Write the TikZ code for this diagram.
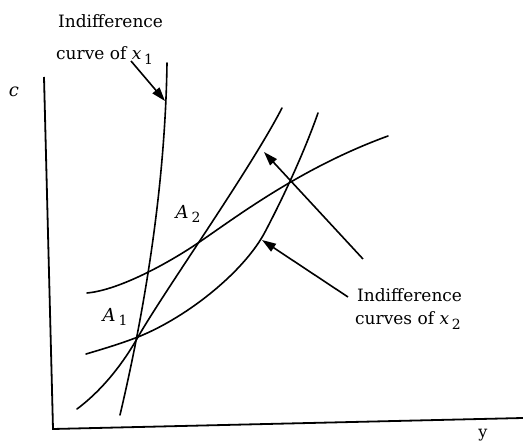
\documentclass[tikz,border=0pt]{standalone}
\usepackage{fontspec}
\setmainfont{DejaVu Serif}
\usetikzlibrary{arrows.meta}
\newcommand\lowsub[1]{\,\raisebox{-4.5pt}{\fontsize{14}{14}\selectfont #1}}
\begin{document}
\begin{tikzpicture}[x=1pt,y=-1pt,
  curve/.style={line width=1.6pt, line cap=round},
  axis/.style={line width=1.8pt},
  pointer/.style={line width=1.6pt, -{Triangle[length=14pt,width=9pt]}},
  lbl/.style={font=\fontsize{17}{20}\selectfont, inner sep=0pt, anchor=base west},
  ptlbl/.style={font=\fontsize{18}{22}\selectfont, inner sep=0pt}]
\useasboundingbox (0,0) rectangle (523,443);
% axes
\coordinate (top) at (44,77);
\coordinate (origin) at (53,429);
\coordinate (right) at (523,418);
\draw[axis] (top) -- (origin) -- (right);
\node[ptlbl] (cl) at (14,92) {\itshape c};
\node[ptlbl, font=\fontsize{16}{18}\selectfont] (yl) at (483,435) {y};
% indifference curve of x1
\draw[curve] (167,63) .. controls (165,200) and (140,330) .. (120,415);
% curve A (upper flat)
\draw[curve] (87,293) .. controls (120,290) and (170,262) .. (198,243)
                      .. controls (235,218) and (300,168) .. (388,136);
% curve B
\draw[curve] (86,354) .. controls (110,347) and (125,342) .. (138,337)
                      .. controls (190,316) and (245,270) .. (265,232)
                      .. controls (285,194) and (305,150) .. (318,113);
% curve C
\draw[curve] (77,409) .. controls (105,388) and (125,360) .. (138,337)
                      .. controls (165,290) and (250,170) .. (282,108);
% labels
\node[lbl] (t1) at (58,28) {Indifference};
\node[lbl] (t2) at (56,60) {curve of {\itshape x}\lowsub{1}};
\node[lbl] (t3) at (357,302) {Indifference};
\node[lbl] (t4) at (355,325) {curves of {\itshape x}\lowsub{2}};
\node[ptlbl] (a1) at (115,317) {\itshape A\lowsub{\upshape 1}};
\node[ptlbl] (a2) at (188,214) {\itshape A\lowsub{\upshape 2}};
% arrows
\coordinate (p1s) at (131,61);
\coordinate (p1e) at (165,101);
\draw[pointer] (p1s) -- (p1e);
\coordinate (p2s) at (363,259);
\coordinate (p2e) at (264,152);
\draw[pointer] (p2s) -- (p2e);
\coordinate (p3s) at (348,297);
\coordinate (p3e) at (262,240);
\draw[pointer] (p3s) -- (p3e);
\end{tikzpicture}
\end{document}
